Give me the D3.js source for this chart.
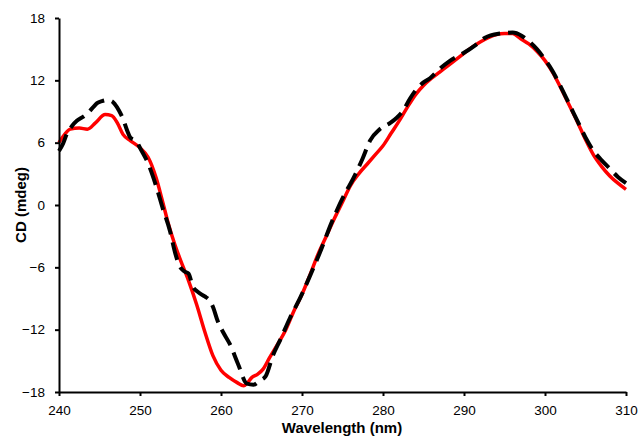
<!DOCTYPE html>
<html lang="en">
<head>
    <meta charset="UTF-8">
    <title>CD spectrum</title>
    <style>
        body { margin: 0; background: #fff; }
        svg { display: block; font-family: 'Liberation Sans', Arial, sans-serif; }
        .axis path, .axis line { stroke: #000; stroke-width: 2; }
        .axis text { font-size: 13.5px; fill: #000; }
        .title { font-size: 15px; font-weight: bold; fill: #000; }
    </style>
</head>
<body>

<div id="chart"></div>

<script src="https://d3js.org/d3.v7.min.js"></script>
<script>
    const width = 638, height = 439;

    // red (solid) spectrum
    const redWl = [240, 240.7, 241.4, 242.5, 243.5, 244.5, 245.7, 246.5, 247.2, 247.9, 248.8, 250, 251, 252, 252.8,
        253.5, 254.3, 255, 256, 257, 258, 259, 260, 261, 262, 262.8, 263.3, 263.8, 264.5, 265.2, 266, 267, 268, 269,
        270, 271, 272, 273, 274, 275, 276, 277, 278, 279, 280, 281, 282, 283, 284, 285, 286, 287, 288, 289, 290, 291,
        292, 293, 294, 295, 296, 297, 298, 299, 300, 301, 302, 303, 304, 305, 306, 307, 308, 309, 310];
    const redCD = [6.0, 6.8, 7.3, 7.4, 7.3, 7.9, 8.7, 8.6, 7.9, 6.8, 6.2, 5.5, 4.6, 2.6, 0.3,
        -1.8, -3.8, -5.3, -7.3, -9.6, -12.2, -14.5, -15.9, -16.6, -17.1, -17.4, -17.1, -16.6, -16.3, -15.8, -14.7, -13.4, -12.0, -10.2,
        -8.6, -6.7, -4.7, -3.0, -1.3, 0.3, 1.9, 3.0, 3.9, 4.8, 5.7, 6.9, 8.1, 9.4, 10.6, 11.5, 12.2, 12.8, 13.4, 14.0, 14.6, 15.2,
        15.7, 16.1, 16.4, 16.5, 16.5, 16.0, 15.5, 14.8, 13.9, 12.7, 11.2, 9.6, 8.0, 6.3, 4.8, 3.7, 2.8, 2.1, 1.5];

    // black (dashed) spectrum
    const blackWl = [240, 240.5, 241, 241.6, 242.2, 243, 243.5, 244.2, 244.7, 245.3, 245.9, 246.5, 246.9, 247.4, 247.9,
        248.4, 248.8, 249.2, 249.6, 250, 251, 252, 252.8, 253.7, 254.3, 254.9, 255.5, 256, 256.5, 257.2, 258, 258.6,
        259, 259.6, 260.3, 261.1, 262.1, 263.2, 264, 264.8, 265.5, 266.4, 267.3, 268.5, 269.8, 271, 272.2, 273.7, 275.3,
        276.3, 277.5, 278.4, 279.6, 280.9, 281.7, 282.5, 283.3, 284.2, 285, 285.8, 287, 288.3, 289.9, 291.6, 292.6,
        294.4, 296, 297.1, 297.8, 299, 300, 301, 302, 303, 304, 305, 306, 307, 308, 309, 310];
    const blackCD = [5.2, 5.9, 6.9, 7.6, 8.1, 8.5, 8.8, 9.4, 9.8, 10.0, 10.1, 10.0, 9.7, 9.1, 8.3,
        7.2, 6.5, 6.3, 6.1, 5.5, 4.0, 1.8, -0.3, -2.5, -4.5, -5.9, -6.4, -6.6, -7.8, -8.4, -8.8, -9.2,
        -9.8, -11.2, -12.3, -13.4, -15.3, -17.2, -17.3, -16.9, -16.5, -14.5, -13.0, -10.9, -8.9, -6.8, -4.6, -1.6, 1.1,
        2.5, 4.5, 6.2, 7.3, 7.9, 8.4, 9.1, 10.2, 11.2, 11.8, 12.2, 13.1, 13.9, 14.6, 15.5, 16.1,
        16.5, 16.6, 16.3, 15.9, 15.0, 14.0, 12.8, 11.3, 9.7, 8.1, 6.5, 5.2, 4.3, 3.5, 2.7, 2.1];

    const xTicks = [240, 250, 260, 270, 280, 290, 300, 310];
    const yTicks = [-18, -12, -6, 0, 6, 12, 18];

    const svg = d3.select("#chart").append("svg")
        .attr("width", width)
        .attr("height", height);

    const x = d3.scaleLinear().domain([240, 310]).range([59, 626]);
    const y = d3.scaleLinear().domain([-18, 18]).range([392, 18]);

    const line = d3.line()
        .x(d => x(d[0]))
        .y(d => y(d[1]))
        .curve(d3.curveMonotoneX);

    const red = redWl.map((w, i) => [w, redCD[i]]);
    const black = blackWl.map((w, i) => [w, blackCD[i]]);

    svg.append("path")
        .datum(red)
        .attr("d", line)
        .attr("fill", "none")
        .attr("stroke", "#ff0000")
        .attr("stroke-width", 3.5)
        .attr("stroke-linejoin", "round");

    svg.append("path")
        .datum(black)
        .attr("d", line)
        .attr("fill", "none")
        .attr("stroke", "#000")
        .attr("stroke-width", 4)
        .attr("stroke-dasharray", "18,8");

    svg.append("g")
        .attr("class", "axis")
        .attr("transform", `translate(0,${y(-18)})`)
        .call(d3.axisBottom(x).tickValues(xTicks).tickSize(4).tickSizeOuter(0).tickPadding(9));

    svg.append("g")
        .attr("class", "axis")
        .attr("transform", `translate(${x(240)},0)`)
        .call(d3.axisLeft(y).tickValues(yTicks).tickSize(4).tickSizeOuter(0).tickPadding(10));

    svg.append("text")
        .attr("class", "title")
        .attr("x", 342)
        .attr("y", 433)
        .attr("text-anchor", "middle")
        .text("Wavelength (nm)");

    svg.append("text")
        .attr("class", "title")
        .attr("transform", "translate(26,205) rotate(-90)")
        .attr("text-anchor", "middle")
        .text("CD (mdeg)");
</script>

</body>
</html>
